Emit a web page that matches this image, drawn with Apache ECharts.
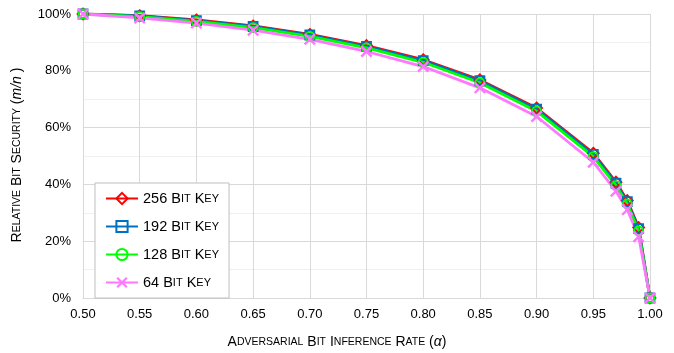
<!DOCTYPE html>
<html><head><meta charset="utf-8">
<script src="https://cdn.jsdelivr.net/npm/echarts@6/dist/echarts.min.js"></script>
<style>html,body{margin:0;padding:0;background:#fff}#c{width:674px;height:353px}</style>
</head><body><div id="c"></div>
<script>
var alphas = [0.50,0.55,0.60,0.65,0.70,0.75,0.80,0.85,0.90,0.95,0.97,0.98,0.99,1.00];
var key256 = [100,99.4,97.9,95.8,92.8,88.9,83.9,76.8,66.9,51.0,40.8,34.3,24.8,0];
var key192 = [100,99.3,97.7,95.6,92.6,88.6,83.6,76.5,66.5,50.6,40.4,33.9,24.4,0];
var key128 = [100,99.1,97.4,95.2,92.1,88.1,83.0,75.8,65.8,49.8,39.6,33.1,23.6,0];
var key64  = [100,98.6,96.8,94.3,91.1,86.8,81.5,74.0,63.9,47.8,37.6,31.1,21.6,0];
var seriesNames = ['256 Bit Key','192 Bit Key','128 Bit Key','64 Bit Key'];
var legendLabels = {'256 Bit Key':'256 B{s|IT} K{s|EY}','192 Bit Key':'192 B{s|IT} K{s|EY}','128 Bit Key':'128 B{s|IT} K{s|EY}','64 Bit Key':'64 B{s|IT} K{s|EY}'};

function pairs(v){ return alphas.map(function(a,i){return [a,v[i]];}); }
var xPath = 'path://M0,1.4L1.4,0L5,3.6L8.6,0L10,1.4L6.4,5L10,8.6L8.6,10L5,6.4L1.4,10L0,8.6L3.6,5Z';
var font = '"Liberation Sans", Arial, sans-serif';
function mk(name, data, color, symbol, size, hollow){
  return {
    name:name, type:'line', data:pairs(data), symbol:symbol, symbolSize:size,
    showAllSymbol:true,
    lineStyle:{color:color,width:2.8},
    itemStyle: hollow ? {color:'rgba(255,255,255,0)', borderColor:color, borderWidth:1.8} : {color:color, borderWidth:0},
    emphasis:{disabled:true}, animation:false
  };
}
var chart = echarts.init(document.getElementById('c'));
chart.setOption({
  animation:false,
  grid:{left:83,right:24,top:14,bottom:55},
  xAxis:{type:'value',min:0.5,max:1.0,interval:0.05,
    axisLine:{show:true,lineStyle:{color:'#d9d9d9'}},axisTick:{show:false},
    axisLabel:{color:'#000',fontSize:13,fontFamily:font,margin:10,formatter:function(v){return v.toFixed(2);}},
    splitLine:{show:true,lineStyle:{color:'#d9d9d9',width:1}}},
  yAxis:{type:'value',min:0,max:100,interval:20,
    axisLine:{show:false},axisTick:{show:false},
    axisLabel:{color:'#000',fontSize:13,fontFamily:font,margin:12,formatter:'{value}%'},
    splitLine:{show:true,lineStyle:{color:'#d9d9d9',width:1}},
    minorTick:{show:false,splitNumber:2},
    minorSplitLine:{show:true,lineStyle:{color:'#f0f0f0',width:1}}},
  legend:{orient:'vertical',left:95,top:183,width:133,padding:[8,10,8,10],
    itemWidth:32,itemHeight:14,itemGap:13,
    backgroundColor:'#fff',borderColor:'#bfbfbf',borderWidth:1,
    data:seriesNames,
    formatter:function(n){return legendLabels[n];},
    textStyle:{color:'#000',fontSize:14.5,fontFamily:font,
      rich:{s:{fontSize:11,fontFamily:font,color:'#000'}}}},
  graphic:[
    {type:'text',left:'center',top:335,style:{text:'A{s|DVERSARIAL} B{s|IT} I{s|NFERENCE} R{s|ATE} ({i|α})',
      fontSize:14,fontFamily:font,fill:'#000',
      rich:{s:{fontSize:10.5,fontFamily:font,fill:'#000'},i:{fontSize:14,fontStyle:'italic',fontFamily:font,fill:'#000'}}}},
    {type:'text',x:17,y:155,rotation:Math.PI/2,
      style:{text:'R{s|ELATIVE} B{s|IT} S{s|ECURITY} ({i|m/n} )',fontSize:14,fontFamily:font,fill:'#000',
        align:'center',verticalAlign:'middle',
        rich:{s:{fontSize:10.5,fontFamily:font,fill:'#000'},i:{fontSize:14,fontStyle:'italic',fontFamily:font,fill:'#000'}}}}
  ],
  series:[
    mk(seriesNames[0],key256,'#ff0000','diamond',11,true),
    mk(seriesNames[1],key192,'#0070c0','rect',9,true),
    mk(seriesNames[2],key128,'#00ff00','circle',9,true),
    mk(seriesNames[3],key64,'#ff77ff',xPath,12,false)
  ]
});
</script></body></html>
